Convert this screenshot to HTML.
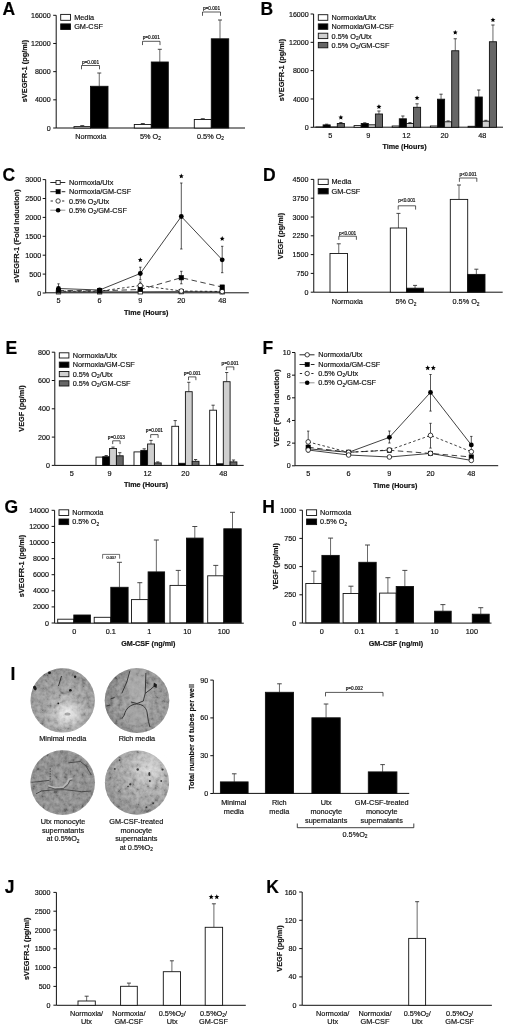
<!DOCTYPE html><html><head><meta charset="utf-8"><style>html,body{margin:0;padding:0;background:#fff;}svg{display:block;will-change:transform;} text{stroke:#111;stroke-width:0.18px;}</style></head><body>
<svg width="520" height="1029" viewBox="0 0 520 1029" font-family="Liberation Sans, sans-serif">
<rect width="520" height="1029" fill="#fff"/>
<text x="2.5" y="15.2" font-size="17.5" text-anchor="start" font-weight="bold" fill="#000">A</text>
<line x1="56.2" y1="15.3" x2="56.2" y2="128" stroke="#111" stroke-width="1.0"/>
<line x1="53.2" y1="128" x2="56.2" y2="128" stroke="#111" stroke-width="1.0"/>
<text x="50.7" y="130.56" font-size="7.1" text-anchor="end" fill="#111">0</text>
<line x1="53.2" y1="99.83" x2="56.2" y2="99.83" stroke="#111" stroke-width="1.0"/>
<text x="50.7" y="102.38" font-size="7.1" text-anchor="end" fill="#111">4000</text>
<line x1="53.2" y1="71.65" x2="56.2" y2="71.65" stroke="#111" stroke-width="1.0"/>
<text x="50.7" y="74.21" font-size="7.1" text-anchor="end" fill="#111">8000</text>
<line x1="53.2" y1="43.47" x2="56.2" y2="43.47" stroke="#111" stroke-width="1.0"/>
<text x="50.7" y="46.03" font-size="7.1" text-anchor="end" fill="#111">12000</text>
<line x1="53.2" y1="15.3" x2="56.2" y2="15.3" stroke="#111" stroke-width="1.0"/>
<text x="50.7" y="17.86" font-size="7.1" text-anchor="end" fill="#111">16000</text>
<line x1="56.2" y1="128" x2="245" y2="128" stroke="#111" stroke-width="1.0"/>
<text x="24" y="71" font-size="7.35" font-weight="bold" text-anchor="middle" fill="#111" transform="rotate(-90 24 71)" dy="2.65">sVEGFR-1 (pg/ml)</text>
<line x1="82.25" y1="125.6" x2="82.25" y2="126.6" stroke="#444" stroke-width="0.8"/>
<line x1="80.25" y1="125.6" x2="84.25" y2="125.6" stroke="#333" stroke-width="0.9"/>
<rect x="74" y="126.6" width="16.5" height="1.4" fill="#fff" stroke="#111" stroke-width="0.9"/>
<line x1="99.25" y1="73" x2="99.25" y2="86.3" stroke="#444" stroke-width="0.8"/>
<line x1="97.25" y1="73" x2="101.25" y2="73" stroke="#333" stroke-width="0.9"/>
<rect x="90.5" y="86.3" width="17.5" height="41.7" fill="#000" stroke="#111" stroke-width="0.9"/>
<line x1="142.8" y1="123.5" x2="142.8" y2="124.5" stroke="#444" stroke-width="0.8"/>
<line x1="140.8" y1="123.5" x2="144.8" y2="123.5" stroke="#333" stroke-width="0.9"/>
<rect x="134.3" y="124.5" width="17" height="3.5" fill="#fff" stroke="#111" stroke-width="0.9"/>
<line x1="159.8" y1="49.3" x2="159.8" y2="62" stroke="#444" stroke-width="0.8"/>
<line x1="157.8" y1="49.3" x2="161.8" y2="49.3" stroke="#333" stroke-width="0.9"/>
<rect x="151.3" y="62" width="17" height="66" fill="#000" stroke="#111" stroke-width="0.9"/>
<line x1="202.8" y1="118.7" x2="202.8" y2="119.5" stroke="#444" stroke-width="0.8"/>
<line x1="200.8" y1="118.7" x2="204.8" y2="118.7" stroke="#333" stroke-width="0.9"/>
<rect x="194.3" y="119.5" width="17" height="8.5" fill="#fff" stroke="#111" stroke-width="0.9"/>
<line x1="220" y1="20" x2="220" y2="38.8" stroke="#444" stroke-width="0.8"/>
<line x1="218" y1="20" x2="222" y2="20" stroke="#333" stroke-width="0.9"/>
<rect x="211.3" y="38.8" width="17.4" height="89.2" fill="#000" stroke="#111" stroke-width="0.9"/>
<path d="M81.5,69.3 V65.5 H99.5 V69.3" fill="none" stroke="#111" stroke-width="0.7"/>
<text x="90.5" y="63.5" font-size="4.7" text-anchor="middle" fill="#111">p=0.001</text>
<path d="M142.5,45.1 V41.3 H160 V45.1" fill="none" stroke="#111" stroke-width="0.7"/>
<text x="151.25" y="39.3" font-size="4.7" text-anchor="middle" fill="#111">p=0.001</text>
<path d="M202.5,15.8 V12 H220.5 V15.8" fill="none" stroke="#111" stroke-width="0.7"/>
<text x="211.5" y="10" font-size="4.7" text-anchor="middle" fill="#111">p=0.001</text>
<text x="90.8" y="139" font-size="7.3" text-anchor="middle" fill="#111">Normoxia</text>
<text x="150.5" y="139" font-size="7.3" text-anchor="middle" fill="#111">5% O<tspan font-size="4.82" dy="1.31">2</tspan><tspan dy="-1.31"></tspan></text>
<text x="210.5" y="139" font-size="7.3" text-anchor="middle" fill="#111">0.5% O<tspan font-size="4.82" dy="1.31">2</tspan><tspan dy="-1.31"></tspan></text>
<rect x="60.7" y="14.4" width="9.8" height="5.9" fill="#fff" stroke="#111" stroke-width="0.9"/>
<text x="74.2" y="19.98" font-size="7.3" text-anchor="start" fill="#111">Media</text>
<rect x="60.7" y="23.9" width="9.8" height="5.6" fill="#000" stroke="#111" stroke-width="0.9"/>
<text x="74.2" y="29.33" font-size="7.3" text-anchor="start" fill="#111">GM-CSF</text>
<text x="260.5" y="15.2" font-size="17.5" text-anchor="start" font-weight="bold" fill="#000">B</text>
<line x1="313.6" y1="14" x2="313.6" y2="127.3" stroke="#111" stroke-width="1.0"/>
<line x1="310.6" y1="127.3" x2="313.6" y2="127.3" stroke="#111" stroke-width="1.0"/>
<text x="308.7" y="129.86" font-size="7.1" text-anchor="end" fill="#111">0</text>
<line x1="310.6" y1="98.97" x2="313.6" y2="98.97" stroke="#111" stroke-width="1.0"/>
<text x="308.7" y="101.53" font-size="7.1" text-anchor="end" fill="#111">4000</text>
<line x1="310.6" y1="70.65" x2="313.6" y2="70.65" stroke="#111" stroke-width="1.0"/>
<text x="308.7" y="73.21" font-size="7.1" text-anchor="end" fill="#111">8000</text>
<line x1="310.6" y1="42.33" x2="313.6" y2="42.33" stroke="#111" stroke-width="1.0"/>
<text x="308.7" y="44.88" font-size="7.1" text-anchor="end" fill="#111">12000</text>
<line x1="310.6" y1="14" x2="313.6" y2="14" stroke="#111" stroke-width="1.0"/>
<text x="308.7" y="16.56" font-size="7.1" text-anchor="end" fill="#111">16000</text>
<line x1="313.6" y1="127.2" x2="503" y2="127.2" stroke="#111" stroke-width="1.0"/>
<text x="281.4" y="70" font-size="7.35" font-weight="bold" text-anchor="middle" fill="#111" transform="rotate(-90 281.4 70)" dy="2.65">sVEGFR-1 (pg/ml)</text>
<rect x="316" y="127" width="7.1" height="0.3" fill="#fff" stroke="#111" stroke-width="0.9"/>
<line x1="326.65" y1="124.2" x2="326.65" y2="124.9" stroke="#444" stroke-width="0.8"/>
<line x1="325.05" y1="124.2" x2="328.25" y2="124.2" stroke="#333" stroke-width="0.9"/>
<rect x="323.1" y="124.9" width="7.1" height="2.4" fill="#000" stroke="#111" stroke-width="0.9"/>
<rect x="330.2" y="127" width="7.1" height="0.3" fill="#cfcfcf" stroke="#111" stroke-width="0.9"/>
<line x1="340.85" y1="122.5" x2="340.85" y2="123.5" stroke="#444" stroke-width="0.8"/>
<line x1="339.25" y1="122.5" x2="342.45" y2="122.5" stroke="#333" stroke-width="0.9"/>
<rect x="337.3" y="123.5" width="7.1" height="3.8" fill="#666" stroke="#111" stroke-width="0.9"/>
<rect x="354.1" y="125.6" width="7.1" height="1.7" fill="#fff" stroke="#111" stroke-width="0.9"/>
<line x1="364.75" y1="122.8" x2="364.75" y2="123.5" stroke="#444" stroke-width="0.8"/>
<line x1="363.15" y1="122.8" x2="366.35" y2="122.8" stroke="#333" stroke-width="0.9"/>
<rect x="361.2" y="123.5" width="7.1" height="3.8" fill="#000" stroke="#111" stroke-width="0.9"/>
<rect x="368.3" y="124.8" width="7.1" height="2.5" fill="#cfcfcf" stroke="#111" stroke-width="0.9"/>
<line x1="378.95" y1="111" x2="378.95" y2="114" stroke="#444" stroke-width="0.8"/>
<line x1="377.35" y1="111" x2="380.55" y2="111" stroke="#333" stroke-width="0.9"/>
<rect x="375.4" y="114" width="7.1" height="13.3" fill="#666" stroke="#111" stroke-width="0.9"/>
<rect x="392.2" y="126" width="7.1" height="1.3" fill="#fff" stroke="#111" stroke-width="0.9"/>
<line x1="402.85" y1="116" x2="402.85" y2="118.8" stroke="#444" stroke-width="0.8"/>
<line x1="401.25" y1="116" x2="404.45" y2="116" stroke="#333" stroke-width="0.9"/>
<rect x="399.3" y="118.8" width="7.1" height="8.5" fill="#000" stroke="#111" stroke-width="0.9"/>
<line x1="409.95" y1="122.6" x2="409.95" y2="123.5" stroke="#444" stroke-width="0.8"/>
<line x1="408.35" y1="122.6" x2="411.55" y2="122.6" stroke="#333" stroke-width="0.9"/>
<rect x="406.4" y="123.5" width="7.1" height="3.8" fill="#cfcfcf" stroke="#111" stroke-width="0.9"/>
<line x1="417.05" y1="103.8" x2="417.05" y2="107.3" stroke="#444" stroke-width="0.8"/>
<line x1="415.45" y1="103.8" x2="418.65" y2="103.8" stroke="#333" stroke-width="0.9"/>
<rect x="413.5" y="107.3" width="7.1" height="20" fill="#666" stroke="#111" stroke-width="0.9"/>
<rect x="430.4" y="126" width="7.1" height="1.3" fill="#fff" stroke="#111" stroke-width="0.9"/>
<line x1="441.05" y1="94.2" x2="441.05" y2="99.2" stroke="#444" stroke-width="0.8"/>
<line x1="439.45" y1="94.2" x2="442.65" y2="94.2" stroke="#333" stroke-width="0.9"/>
<rect x="437.5" y="99.2" width="7.1" height="28.1" fill="#000" stroke="#111" stroke-width="0.9"/>
<line x1="448.15" y1="120.9" x2="448.15" y2="121.8" stroke="#444" stroke-width="0.8"/>
<line x1="446.55" y1="120.9" x2="449.75" y2="120.9" stroke="#333" stroke-width="0.9"/>
<rect x="444.6" y="121.8" width="7.1" height="5.5" fill="#cfcfcf" stroke="#111" stroke-width="0.9"/>
<line x1="455.25" y1="38.75" x2="455.25" y2="50.75" stroke="#444" stroke-width="0.8"/>
<line x1="453.65" y1="38.75" x2="456.85" y2="38.75" stroke="#333" stroke-width="0.9"/>
<rect x="451.7" y="50.75" width="7.1" height="76.55" fill="#666" stroke="#111" stroke-width="0.9"/>
<rect x="468.1" y="126.3" width="7.1" height="1" fill="#fff" stroke="#111" stroke-width="0.9"/>
<line x1="478.75" y1="90" x2="478.75" y2="97" stroke="#444" stroke-width="0.8"/>
<line x1="477.15" y1="90" x2="480.35" y2="90" stroke="#333" stroke-width="0.9"/>
<rect x="475.2" y="97" width="7.1" height="30.3" fill="#000" stroke="#111" stroke-width="0.9"/>
<line x1="485.85" y1="120.3" x2="485.85" y2="121.2" stroke="#444" stroke-width="0.8"/>
<line x1="484.25" y1="120.3" x2="487.45" y2="120.3" stroke="#333" stroke-width="0.9"/>
<rect x="482.3" y="121.2" width="7.1" height="6.1" fill="#cfcfcf" stroke="#111" stroke-width="0.9"/>
<line x1="492.95" y1="25" x2="492.95" y2="41.75" stroke="#444" stroke-width="0.8"/>
<line x1="491.35" y1="25" x2="494.55" y2="25" stroke="#333" stroke-width="0.9"/>
<rect x="489.4" y="41.75" width="7.1" height="85.55" fill="#666" stroke="#111" stroke-width="0.9"/>
<polygon points="340.85,114.9 341.56,116.53 343.32,116.7 341.99,117.87 342.38,119.6 340.85,118.7 339.32,119.6 339.71,117.87 338.38,116.7 340.14,116.53" fill="#000"/>
<polygon points="378.95,104.2 379.66,105.83 381.42,106 380.09,107.17 380.48,108.9 378.95,108 377.42,108.9 377.81,107.17 376.48,106 378.24,105.83" fill="#000"/>
<polygon points="417.05,95.4 417.76,97.03 419.52,97.2 418.19,98.37 418.58,100.1 417.05,99.2 415.52,100.1 415.91,98.37 414.58,97.2 416.34,97.03" fill="#000"/>
<polygon points="455.25,29.9 455.96,31.53 457.72,31.7 456.39,32.87 456.78,34.6 455.25,33.7 453.72,34.6 454.11,32.87 452.78,31.7 454.54,31.53" fill="#000"/>
<polygon points="492.95,17.4 493.66,19.03 495.42,19.2 494.09,20.37 494.48,22.1 492.95,21.2 491.42,22.1 491.81,20.37 490.48,19.2 492.24,19.03" fill="#000"/>
<text x="330.2" y="137.6" font-size="7.3" text-anchor="middle" fill="#111">5</text>
<text x="368.3" y="137.6" font-size="7.3" text-anchor="middle" fill="#111">9</text>
<text x="406.4" y="137.6" font-size="7.3" text-anchor="middle" fill="#111">12</text>
<text x="444.6" y="137.6" font-size="7.3" text-anchor="middle" fill="#111">20</text>
<text x="482.3" y="137.6" font-size="7.3" text-anchor="middle" fill="#111">48</text>
<text x="404.5" y="148.5" font-size="7.2" text-anchor="middle" font-weight="bold" fill="#111">Time (Hours)</text>
<rect x="318.3" y="14.7" width="9.5" height="5.6" fill="#fff" stroke="#111" stroke-width="0.9"/>
<text x="331.6" y="20.13" font-size="7.3" text-anchor="start" fill="#111">Normoxia/Utx</text>
<rect x="318.3" y="23.9" width="9.5" height="5.4" fill="#000" stroke="#111" stroke-width="0.9"/>
<text x="331.6" y="29.23" font-size="7.3" text-anchor="start" fill="#111">Normoxia/GM-CSF</text>
<rect x="318.3" y="33.2" width="9.5" height="5.4" fill="#cfcfcf" stroke="#111" stroke-width="0.9"/>
<text x="331.6" y="38.53" font-size="7.3" text-anchor="start" fill="#111">0.5% O<tspan font-size="4.82" dy="1.31">2</tspan><tspan dy="-1.31">/Utx</tspan></text>
<rect x="318.3" y="42.4" width="9.5" height="5.4" fill="#666" stroke="#111" stroke-width="0.9"/>
<text x="331.6" y="47.73" font-size="7.3" text-anchor="start" fill="#111">0.5% O<tspan font-size="4.82" dy="1.31">2</tspan><tspan dy="-1.31">/GM-CSF</tspan></text>
<text x="2.5" y="181" font-size="17.5" text-anchor="start" font-weight="bold" fill="#000">C</text>
<line x1="45.7" y1="179.6" x2="45.7" y2="293" stroke="#111" stroke-width="1.0"/>
<line x1="42.7" y1="293" x2="45.7" y2="293" stroke="#111" stroke-width="1.0"/>
<text x="41.1" y="295.56" font-size="7.1" text-anchor="end" fill="#111">0</text>
<line x1="42.7" y1="274.1" x2="45.7" y2="274.1" stroke="#111" stroke-width="1.0"/>
<text x="41.1" y="276.66" font-size="7.1" text-anchor="end" fill="#111">500</text>
<line x1="42.7" y1="255.2" x2="45.7" y2="255.2" stroke="#111" stroke-width="1.0"/>
<text x="41.1" y="257.76" font-size="7.1" text-anchor="end" fill="#111">1000</text>
<line x1="42.7" y1="236.3" x2="45.7" y2="236.3" stroke="#111" stroke-width="1.0"/>
<text x="41.1" y="238.86" font-size="7.1" text-anchor="end" fill="#111">1500</text>
<line x1="42.7" y1="217.4" x2="45.7" y2="217.4" stroke="#111" stroke-width="1.0"/>
<text x="41.1" y="219.96" font-size="7.1" text-anchor="end" fill="#111">2000</text>
<line x1="42.7" y1="198.5" x2="45.7" y2="198.5" stroke="#111" stroke-width="1.0"/>
<text x="41.1" y="201.06" font-size="7.1" text-anchor="end" fill="#111">2500</text>
<line x1="42.7" y1="179.6" x2="45.7" y2="179.6" stroke="#111" stroke-width="1.0"/>
<text x="41.1" y="182.16" font-size="7.1" text-anchor="end" fill="#111">3000</text>
<line x1="45.7" y1="292.8" x2="248.8" y2="292.8" stroke="#111" stroke-width="1.0"/>
<text x="16.3" y="236" font-size="7.35" font-weight="bold" text-anchor="middle" fill="#111" transform="rotate(-90 16.3 236)" dy="2.65">sVEGFR-1 (Fold Induction)</text>
<polyline points="58.5,291.8 99.6,291.8 140.3,291.8 181.3,291.6 222.2,291.8" fill="none" stroke="#111" stroke-width="0.8"/>
<polyline points="58.5,290.5 99.6,290.8 140.3,289.5 181.3,277.7 222.2,287.1" fill="none" stroke="#111" stroke-width="0.8" stroke-dasharray="5.5,3.5"/>
<line x1="181.3" y1="271.3" x2="181.3" y2="283.8" stroke="#111" stroke-width="0.7"/>
<line x1="180.1" y1="271.3" x2="182.5" y2="271.3" stroke="#111" stroke-width="0.7"/>
<line x1="180.1" y1="283.8" x2="182.5" y2="283.8" stroke="#111" stroke-width="0.7"/>
<polyline points="58.5,291.2 99.6,291.2 140.3,285.5 181.3,291 222.2,291.5" fill="none" stroke="#111" stroke-width="0.8" stroke-dasharray="2.6,2.3"/>
<line x1="140.3" y1="282" x2="140.3" y2="289" stroke="#111" stroke-width="0.7"/>
<line x1="139.1" y1="282" x2="141.5" y2="282" stroke="#111" stroke-width="0.7"/>
<line x1="139.1" y1="289" x2="141.5" y2="289" stroke="#111" stroke-width="0.7"/>
<polyline points="58.5,288.5 99.6,290 140.3,273.5 181.3,216.5 222.2,259.8" fill="none" stroke="#111" stroke-width="0.8"/>
<line x1="58.5" y1="283.8" x2="58.5" y2="292" stroke="#111" stroke-width="0.7"/>
<line x1="57.3" y1="283.8" x2="59.7" y2="283.8" stroke="#111" stroke-width="0.7"/>
<line x1="57.3" y1="292" x2="59.7" y2="292" stroke="#111" stroke-width="0.7"/>
<line x1="140.3" y1="267.2" x2="140.3" y2="279.8" stroke="#111" stroke-width="0.7"/>
<line x1="139.1" y1="267.2" x2="141.5" y2="267.2" stroke="#111" stroke-width="0.7"/>
<line x1="139.1" y1="279.8" x2="141.5" y2="279.8" stroke="#111" stroke-width="0.7"/>
<line x1="181.3" y1="183" x2="181.3" y2="249" stroke="#111" stroke-width="0.7"/>
<line x1="180.1" y1="183" x2="182.5" y2="183" stroke="#111" stroke-width="0.7"/>
<line x1="180.1" y1="249" x2="182.5" y2="249" stroke="#111" stroke-width="0.7"/>
<line x1="222.2" y1="246.3" x2="222.2" y2="272.7" stroke="#111" stroke-width="0.7"/>
<line x1="221" y1="246.3" x2="223.4" y2="246.3" stroke="#111" stroke-width="0.7"/>
<line x1="221" y1="272.7" x2="223.4" y2="272.7" stroke="#111" stroke-width="0.7"/>
<rect x="56.3" y="289.6" width="4.4" height="4.4" fill="#fff" stroke="#111" stroke-width="0.8"/>
<rect x="97.4" y="289.6" width="4.4" height="4.4" fill="#fff" stroke="#111" stroke-width="0.8"/>
<rect x="138.1" y="289.6" width="4.4" height="4.4" fill="#fff" stroke="#111" stroke-width="0.8"/>
<rect x="179.1" y="289.4" width="4.4" height="4.4" fill="#fff" stroke="#111" stroke-width="0.8"/>
<rect x="220" y="289.6" width="4.4" height="4.4" fill="#fff" stroke="#111" stroke-width="0.8"/>
<circle cx="58.5" cy="291.2" r="2.31" fill="#fff" stroke="#111" stroke-width="0.8"/>
<circle cx="99.6" cy="291.2" r="2.31" fill="#fff" stroke="#111" stroke-width="0.8"/>
<circle cx="140.3" cy="285.5" r="2.31" fill="#fff" stroke="#111" stroke-width="0.8"/>
<circle cx="181.3" cy="291" r="2.31" fill="#fff" stroke="#111" stroke-width="0.8"/>
<circle cx="222.2" cy="291.5" r="2.31" fill="#fff" stroke="#111" stroke-width="0.8"/>
<rect x="56.3" y="288.3" width="4.4" height="4.4" fill="#000" stroke="#000" stroke-width="0.6"/>
<rect x="97.4" y="288.6" width="4.4" height="4.4" fill="#000" stroke="#000" stroke-width="0.6"/>
<rect x="138.1" y="287.3" width="4.4" height="4.4" fill="#000" stroke="#000" stroke-width="0.6"/>
<rect x="179.1" y="275.5" width="4.4" height="4.4" fill="#000" stroke="#000" stroke-width="0.6"/>
<rect x="220" y="284.9" width="4.4" height="4.4" fill="#000" stroke="#000" stroke-width="0.6"/>
<circle cx="58.5" cy="288.5" r="2.42" fill="#000"/>
<circle cx="99.6" cy="290" r="2.42" fill="#000"/>
<circle cx="140.3" cy="273.5" r="2.42" fill="#000"/>
<circle cx="181.3" cy="216.5" r="2.42" fill="#000"/>
<circle cx="222.2" cy="259.8" r="2.42" fill="#000"/>
<polygon points="140.3,257.4 141.01,259.03 142.77,259.2 141.44,260.37 141.83,262.1 140.3,261.2 138.77,262.1 139.16,260.37 137.83,259.2 139.59,259.03" fill="#000"/>
<polygon points="181.3,173.6 182.01,175.23 183.77,175.4 182.44,176.57 182.83,178.3 181.3,177.4 179.77,178.3 180.16,176.57 178.83,175.4 180.59,175.23" fill="#000"/>
<polygon points="222.2,236.1 222.91,237.73 224.67,237.9 223.34,239.07 223.73,240.8 222.2,239.9 220.67,240.8 221.06,239.07 219.73,237.9 221.49,237.73" fill="#000"/>
<text x="58.5" y="303" font-size="7.3" text-anchor="middle" fill="#111">5</text>
<text x="99.6" y="303" font-size="7.3" text-anchor="middle" fill="#111">6</text>
<text x="140.3" y="303" font-size="7.3" text-anchor="middle" fill="#111">9</text>
<text x="181.3" y="303" font-size="7.3" text-anchor="middle" fill="#111">20</text>
<text x="222.2" y="303" font-size="7.3" text-anchor="middle" fill="#111">48</text>
<text x="146.2" y="314.9" font-size="7.2" text-anchor="middle" font-weight="bold" fill="#111">Time (Hours)</text>
<line x1="50.3" y1="182.5" x2="65.3" y2="182.5" stroke="#111" stroke-width="0.9"/>
<rect x="56" y="180.4" width="4.2" height="4.2" fill="#fff" stroke="#111" stroke-width="0.8"/>
<text x="69.1" y="185.13" font-size="7.3" text-anchor="start" fill="#111">Normoxia/Utx</text>
<line x1="50.3" y1="191.7" x2="58.1" y2="191.7" stroke="#111" stroke-width="0.9"/>
<line x1="61.7" y1="191.7" x2="65.3" y2="191.7" stroke="#111" stroke-width="0.9"/>
<rect x="56" y="189.6" width="4.2" height="4.2" fill="#000" stroke="#000" stroke-width="0.6"/>
<text x="69.1" y="194.33" font-size="7.3" text-anchor="start" fill="#111">Normoxia/GM-CSF</text>
<line x1="50.6" y1="201" x2="52.9" y2="201" stroke="#111" stroke-width="0.9"/>
<line x1="62.1" y1="201" x2="64.3" y2="201" stroke="#111" stroke-width="0.9"/>
<circle cx="58.1" cy="201" r="2.21" fill="#fff" stroke="#111" stroke-width="0.8"/>
<text x="69.1" y="203.63" font-size="7.3" text-anchor="start" fill="#111">0.5% O<tspan font-size="4.82" dy="1.31">2</tspan><tspan dy="-1.31">/Utx</tspan></text>
<line x1="50.3" y1="210.2" x2="65.3" y2="210.2" stroke="#888" stroke-width="0.9"/>
<circle cx="58.1" cy="210.2" r="2.31" fill="#000"/>
<text x="69.1" y="212.83" font-size="7.3" text-anchor="start" fill="#111">0.5% O<tspan font-size="4.82" dy="1.31">2</tspan><tspan dy="-1.31">/GM-CSF</tspan></text>
<text x="263" y="181.1" font-size="17.5" text-anchor="start" font-weight="bold" fill="#000">D</text>
<line x1="313.75" y1="179.4" x2="313.75" y2="292.2" stroke="#111" stroke-width="1.0"/>
<line x1="310.75" y1="292.2" x2="313.75" y2="292.2" stroke="#111" stroke-width="1.0"/>
<text x="308.4" y="294.76" font-size="7.1" text-anchor="end" fill="#111">0</text>
<line x1="310.75" y1="273.4" x2="313.75" y2="273.4" stroke="#111" stroke-width="1.0"/>
<text x="308.4" y="275.96" font-size="7.1" text-anchor="end" fill="#111">750</text>
<line x1="310.75" y1="254.6" x2="313.75" y2="254.6" stroke="#111" stroke-width="1.0"/>
<text x="308.4" y="257.16" font-size="7.1" text-anchor="end" fill="#111">1500</text>
<line x1="310.75" y1="235.8" x2="313.75" y2="235.8" stroke="#111" stroke-width="1.0"/>
<text x="308.4" y="238.36" font-size="7.1" text-anchor="end" fill="#111">2250</text>
<line x1="310.75" y1="217" x2="313.75" y2="217" stroke="#111" stroke-width="1.0"/>
<text x="308.4" y="219.56" font-size="7.1" text-anchor="end" fill="#111">3000</text>
<line x1="310.75" y1="198.2" x2="313.75" y2="198.2" stroke="#111" stroke-width="1.0"/>
<text x="308.4" y="200.76" font-size="7.1" text-anchor="end" fill="#111">3750</text>
<line x1="310.75" y1="179.4" x2="313.75" y2="179.4" stroke="#111" stroke-width="1.0"/>
<text x="308.4" y="181.96" font-size="7.1" text-anchor="end" fill="#111">4500</text>
<line x1="313.75" y1="292.2" x2="502.7" y2="292.2" stroke="#111" stroke-width="1.0"/>
<text x="280.7" y="236" font-size="7.35" font-weight="bold" text-anchor="middle" fill="#111" transform="rotate(-90 280.7 236)" dy="2.65">VEGF (pg/ml)</text>
<line x1="338.75" y1="243.8" x2="338.75" y2="253.5" stroke="#444" stroke-width="0.8"/>
<line x1="336.75" y1="243.8" x2="340.75" y2="243.8" stroke="#333" stroke-width="0.9"/>
<rect x="330" y="253.5" width="17.5" height="38.7" fill="#fff" stroke="#111" stroke-width="0.9"/>
<line x1="398.45" y1="213.4" x2="398.45" y2="228" stroke="#444" stroke-width="0.8"/>
<line x1="396.45" y1="213.4" x2="400.45" y2="213.4" stroke="#333" stroke-width="0.9"/>
<rect x="390.3" y="228" width="16.3" height="64.2" fill="#fff" stroke="#111" stroke-width="0.9"/>
<line x1="415.05" y1="285.4" x2="415.05" y2="288.2" stroke="#444" stroke-width="0.8"/>
<line x1="413.05" y1="285.4" x2="417.05" y2="285.4" stroke="#333" stroke-width="0.9"/>
<rect x="406.6" y="288.2" width="16.9" height="4" fill="#000" stroke="#111" stroke-width="0.9"/>
<line x1="459" y1="185" x2="459" y2="199.4" stroke="#444" stroke-width="0.8"/>
<line x1="457" y1="185" x2="461" y2="185" stroke="#333" stroke-width="0.9"/>
<rect x="450.3" y="199.4" width="17.4" height="92.8" fill="#fff" stroke="#111" stroke-width="0.9"/>
<line x1="476.35" y1="269.2" x2="476.35" y2="274.4" stroke="#444" stroke-width="0.8"/>
<line x1="474.35" y1="269.2" x2="478.35" y2="269.2" stroke="#333" stroke-width="0.9"/>
<rect x="467.7" y="274.4" width="17.3" height="17.8" fill="#000" stroke="#111" stroke-width="0.9"/>
<path d="M338.8,239.8 V236.2 H356.4 V239.8" fill="none" stroke="#111" stroke-width="0.7"/>
<text x="347.6" y="234.5" font-size="4.7" text-anchor="middle" fill="#111">p&lt;0.001</text>
<path d="M398.2,209.6 V205.8 H415.6 V209.6" fill="none" stroke="#111" stroke-width="0.7"/>
<text x="406.9" y="202.4" font-size="4.7" text-anchor="middle" fill="#111">p&lt;0.001</text>
<path d="M459.4,181.8 V178 H476.8 V181.8" fill="none" stroke="#111" stroke-width="0.7"/>
<text x="468.1" y="175.5" font-size="4.7" text-anchor="middle" fill="#111">p&lt;0.001</text>
<text x="347.3" y="304.2" font-size="7.3" text-anchor="middle" fill="#111">Normoxia</text>
<text x="406" y="304.2" font-size="7.3" text-anchor="middle" fill="#111">5% O<tspan font-size="4.82" dy="1.31">2</tspan><tspan dy="-1.31"></tspan></text>
<text x="466" y="304.2" font-size="7.3" text-anchor="middle" fill="#111">0.5% O<tspan font-size="4.82" dy="1.31">2</tspan><tspan dy="-1.31"></tspan></text>
<rect x="318.2" y="179.2" width="10" height="5.3" fill="#fff" stroke="#111" stroke-width="0.9"/>
<text x="331.5" y="184.48" font-size="7.3" text-anchor="start" fill="#111">Media</text>
<rect x="318.2" y="188.5" width="10" height="5.4" fill="#000" stroke="#111" stroke-width="0.9"/>
<text x="331.5" y="193.83" font-size="7.3" text-anchor="start" fill="#111">GM-CSF</text>
<text x="5.5" y="353.5" font-size="17.5" text-anchor="start" font-weight="bold" fill="#000">E</text>
<line x1="54.8" y1="352.2" x2="54.8" y2="465.4" stroke="#111" stroke-width="1.0"/>
<line x1="51.8" y1="465.4" x2="54.8" y2="465.4" stroke="#111" stroke-width="1.0"/>
<text x="49.9" y="467.96" font-size="7.1" text-anchor="end" fill="#111">0</text>
<line x1="51.8" y1="437.1" x2="54.8" y2="437.1" stroke="#111" stroke-width="1.0"/>
<text x="49.9" y="439.66" font-size="7.1" text-anchor="end" fill="#111">200</text>
<line x1="51.8" y1="408.8" x2="54.8" y2="408.8" stroke="#111" stroke-width="1.0"/>
<text x="49.9" y="411.36" font-size="7.1" text-anchor="end" fill="#111">400</text>
<line x1="51.8" y1="380.5" x2="54.8" y2="380.5" stroke="#111" stroke-width="1.0"/>
<text x="49.9" y="383.06" font-size="7.1" text-anchor="end" fill="#111">600</text>
<line x1="51.8" y1="352.2" x2="54.8" y2="352.2" stroke="#111" stroke-width="1.0"/>
<text x="49.9" y="354.76" font-size="7.1" text-anchor="end" fill="#111">800</text>
<line x1="54.8" y1="465.4" x2="243.7" y2="465.4" stroke="#111" stroke-width="1.0"/>
<text x="21.8" y="408.5" font-size="7.35" font-weight="bold" text-anchor="middle" fill="#111" transform="rotate(-90 21.8 408.5)" dy="2.65">VEGF (pg/ml)</text>
<rect x="96" y="457.1" width="6.8" height="8.3" fill="#fff" stroke="#111" stroke-width="0.9"/>
<line x1="106.2" y1="455.5" x2="106.2" y2="456.7" stroke="#444" stroke-width="0.8"/>
<line x1="104.6" y1="455.5" x2="107.8" y2="455.5" stroke="#333" stroke-width="0.9"/>
<rect x="102.8" y="456.7" width="6.8" height="8.7" fill="#000" stroke="#111" stroke-width="0.9"/>
<line x1="113" y1="447.1" x2="113" y2="448.5" stroke="#444" stroke-width="0.8"/>
<line x1="111.4" y1="447.1" x2="114.6" y2="447.1" stroke="#333" stroke-width="0.9"/>
<rect x="109.6" y="448.5" width="6.8" height="16.9" fill="#cfcfcf" stroke="#111" stroke-width="0.9"/>
<line x1="119.8" y1="452.7" x2="119.8" y2="455.8" stroke="#444" stroke-width="0.8"/>
<line x1="118.2" y1="452.7" x2="121.4" y2="452.7" stroke="#333" stroke-width="0.9"/>
<rect x="116.4" y="455.8" width="6.8" height="9.6" fill="#666" stroke="#111" stroke-width="0.9"/>
<rect x="134" y="451.9" width="6.8" height="13.5" fill="#fff" stroke="#111" stroke-width="0.9"/>
<line x1="144.2" y1="448.8" x2="144.2" y2="450.4" stroke="#444" stroke-width="0.8"/>
<line x1="142.6" y1="448.8" x2="145.8" y2="448.8" stroke="#333" stroke-width="0.9"/>
<rect x="140.8" y="450.4" width="6.8" height="15" fill="#000" stroke="#111" stroke-width="0.9"/>
<line x1="151" y1="440.4" x2="151" y2="444" stroke="#444" stroke-width="0.8"/>
<line x1="149.4" y1="440.4" x2="152.6" y2="440.4" stroke="#333" stroke-width="0.9"/>
<rect x="147.6" y="444" width="6.8" height="21.4" fill="#cfcfcf" stroke="#111" stroke-width="0.9"/>
<line x1="157.8" y1="461.9" x2="157.8" y2="462.9" stroke="#444" stroke-width="0.8"/>
<line x1="156.2" y1="461.9" x2="159.4" y2="461.9" stroke="#333" stroke-width="0.9"/>
<rect x="154.4" y="462.9" width="6.8" height="2.5" fill="#666" stroke="#111" stroke-width="0.9"/>
<line x1="175.2" y1="420.6" x2="175.2" y2="426.3" stroke="#444" stroke-width="0.8"/>
<line x1="173.6" y1="420.6" x2="176.8" y2="420.6" stroke="#333" stroke-width="0.9"/>
<rect x="171.8" y="426.3" width="6.8" height="39.1" fill="#fff" stroke="#111" stroke-width="0.9"/>
<rect x="178.6" y="463.3" width="6.8" height="2.1" fill="#000" stroke="#111" stroke-width="0.9"/>
<line x1="188.8" y1="382.3" x2="188.8" y2="391.7" stroke="#444" stroke-width="0.8"/>
<line x1="187.2" y1="382.3" x2="190.4" y2="382.3" stroke="#333" stroke-width="0.9"/>
<rect x="185.4" y="391.7" width="6.8" height="73.7" fill="#cfcfcf" stroke="#111" stroke-width="0.9"/>
<line x1="195.6" y1="459.5" x2="195.6" y2="461.3" stroke="#444" stroke-width="0.8"/>
<line x1="194" y1="459.5" x2="197.2" y2="459.5" stroke="#333" stroke-width="0.9"/>
<rect x="192.2" y="461.3" width="6.8" height="4.1" fill="#666" stroke="#111" stroke-width="0.9"/>
<line x1="213.1" y1="405.2" x2="213.1" y2="410.2" stroke="#444" stroke-width="0.8"/>
<line x1="211.5" y1="405.2" x2="214.7" y2="405.2" stroke="#333" stroke-width="0.9"/>
<rect x="209.7" y="410.2" width="6.8" height="55.2" fill="#fff" stroke="#111" stroke-width="0.9"/>
<rect x="216.5" y="463.8" width="6.8" height="1.6" fill="#000" stroke="#111" stroke-width="0.9"/>
<line x1="226.7" y1="372.5" x2="226.7" y2="381.7" stroke="#444" stroke-width="0.8"/>
<line x1="225.1" y1="372.5" x2="228.3" y2="372.5" stroke="#333" stroke-width="0.9"/>
<rect x="223.3" y="381.7" width="6.8" height="83.7" fill="#cfcfcf" stroke="#111" stroke-width="0.9"/>
<line x1="233.5" y1="460" x2="233.5" y2="461.9" stroke="#444" stroke-width="0.8"/>
<line x1="231.9" y1="460" x2="235.1" y2="460" stroke="#333" stroke-width="0.9"/>
<rect x="230.1" y="461.9" width="6.8" height="3.5" fill="#666" stroke="#111" stroke-width="0.9"/>
<path d="M112.7,444.1 V440.8 H120.1 V444.1" fill="none" stroke="#111" stroke-width="0.7"/>
<text x="116.4" y="438.6" font-size="4.7" text-anchor="middle" fill="#111">p=0.013</text>
<path d="M150.7,437.9 V434.6 H158.1 V437.9" fill="none" stroke="#111" stroke-width="0.7"/>
<text x="154.4" y="432.4" font-size="4.7" text-anchor="middle" fill="#111">p=0.001</text>
<path d="M188.5,380.2 V376.9 H195.9 V380.2" fill="none" stroke="#111" stroke-width="0.7"/>
<text x="192.2" y="374.7" font-size="4.7" text-anchor="middle" fill="#111">p=0.001</text>
<path d="M226.4,370.2 V366.9 H233.8 V370.2" fill="none" stroke="#111" stroke-width="0.7"/>
<text x="230.1" y="364.7" font-size="4.7" text-anchor="middle" fill="#111">p=0.001</text>
<text x="71.9" y="476.3" font-size="7.3" text-anchor="middle" fill="#111">5</text>
<text x="109.6" y="476.3" font-size="7.3" text-anchor="middle" fill="#111">9</text>
<text x="147.6" y="476.3" font-size="7.3" text-anchor="middle" fill="#111">12</text>
<text x="185.4" y="476.3" font-size="7.3" text-anchor="middle" fill="#111">20</text>
<text x="223.3" y="476.3" font-size="7.3" text-anchor="middle" fill="#111">48</text>
<text x="146" y="486.9" font-size="7.2" text-anchor="middle" font-weight="bold" fill="#111">Time (Hours)</text>
<rect x="59.3" y="352.8" width="9.6" height="5.2" fill="#fff" stroke="#111" stroke-width="0.9"/>
<text x="72.7" y="358.03" font-size="7.3" text-anchor="start" fill="#111">Normoxia/Utx</text>
<rect x="59.3" y="362.1" width="9.6" height="5.2" fill="#000" stroke="#111" stroke-width="0.9"/>
<text x="72.7" y="367.33" font-size="7.3" text-anchor="start" fill="#111">Normoxia/GM-CSF</text>
<rect x="59.3" y="371.5" width="9.6" height="5.2" fill="#cfcfcf" stroke="#111" stroke-width="0.9"/>
<text x="72.7" y="376.73" font-size="7.3" text-anchor="start" fill="#111">0.5% O<tspan font-size="4.82" dy="1.31">2</tspan><tspan dy="-1.31">/Utx</tspan></text>
<rect x="59.3" y="380.8" width="9.6" height="5.2" fill="#666" stroke="#111" stroke-width="0.9"/>
<text x="72.7" y="386.03" font-size="7.3" text-anchor="start" fill="#111">0.5% O<tspan font-size="4.82" dy="1.31">2</tspan><tspan dy="-1.31">/GM-CSF</tspan></text>
<text x="262.5" y="353.8" font-size="17.5" text-anchor="start" font-weight="bold" fill="#000">F</text>
<line x1="295" y1="352.5" x2="295" y2="465.6" stroke="#111" stroke-width="1.0"/>
<line x1="292" y1="465.8" x2="295" y2="465.8" stroke="#111" stroke-width="1.0"/>
<text x="290.7" y="468.36" font-size="7.1" text-anchor="end" fill="#111">0</text>
<line x1="292" y1="443.14" x2="295" y2="443.14" stroke="#111" stroke-width="1.0"/>
<text x="290.7" y="445.7" font-size="7.1" text-anchor="end" fill="#111">2</text>
<line x1="292" y1="420.48" x2="295" y2="420.48" stroke="#111" stroke-width="1.0"/>
<text x="290.7" y="423.04" font-size="7.1" text-anchor="end" fill="#111">4</text>
<line x1="292" y1="397.82" x2="295" y2="397.82" stroke="#111" stroke-width="1.0"/>
<text x="290.7" y="400.38" font-size="7.1" text-anchor="end" fill="#111">6</text>
<line x1="292" y1="375.16" x2="295" y2="375.16" stroke="#111" stroke-width="1.0"/>
<text x="290.7" y="377.72" font-size="7.1" text-anchor="end" fill="#111">8</text>
<line x1="292" y1="352.5" x2="295" y2="352.5" stroke="#111" stroke-width="1.0"/>
<text x="290.7" y="355.06" font-size="7.1" text-anchor="end" fill="#111">10</text>
<line x1="295" y1="465.7" x2="498.2" y2="465.7" stroke="#111" stroke-width="1.0"/>
<text x="276" y="408" font-size="7.35" font-weight="bold" text-anchor="middle" fill="#111" transform="rotate(-90 276 408)" dy="2.65">VEGF (Fold Induction)</text>
<polyline points="308.2,450 348.6,455 389.4,457 430.5,453.4 471.3,460.4" fill="none" stroke="#111" stroke-width="0.8"/>
<polyline points="308.2,447.2 348.6,452.3 389.4,450.3 430.5,453.4 471.3,457" fill="none" stroke="#111" stroke-width="0.8" stroke-dasharray="5.5,3.5"/>
<polyline points="308.2,441.9 348.6,452.3 389.4,450 430.5,435.4 471.3,451.7" fill="none" stroke="#111" stroke-width="0.8" stroke-dasharray="2.6,2.3"/>
<line x1="308.2" y1="431.1" x2="308.2" y2="452" stroke="#111" stroke-width="0.7"/>
<line x1="307" y1="431.1" x2="309.4" y2="431.1" stroke="#111" stroke-width="0.7"/>
<line x1="307" y1="452" x2="309.4" y2="452" stroke="#111" stroke-width="0.7"/>
<line x1="430.5" y1="423.3" x2="430.5" y2="448.1" stroke="#111" stroke-width="0.7"/>
<line x1="429.3" y1="423.3" x2="431.7" y2="423.3" stroke="#111" stroke-width="0.7"/>
<line x1="429.3" y1="448.1" x2="431.7" y2="448.1" stroke="#111" stroke-width="0.7"/>
<polyline points="308.2,448.8 348.6,452.3 389.4,437.3 430.5,392.4 471.3,444.9" fill="none" stroke="#111" stroke-width="0.8"/>
<line x1="389.4" y1="431" x2="389.4" y2="443" stroke="#111" stroke-width="0.7"/>
<line x1="388.2" y1="431" x2="390.6" y2="431" stroke="#111" stroke-width="0.7"/>
<line x1="388.2" y1="443" x2="390.6" y2="443" stroke="#111" stroke-width="0.7"/>
<line x1="430.5" y1="374.5" x2="430.5" y2="411.1" stroke="#111" stroke-width="0.7"/>
<line x1="429.3" y1="374.5" x2="431.7" y2="374.5" stroke="#111" stroke-width="0.7"/>
<line x1="429.3" y1="411.1" x2="431.7" y2="411.1" stroke="#111" stroke-width="0.7"/>
<line x1="471.3" y1="436.4" x2="471.3" y2="452" stroke="#111" stroke-width="0.7"/>
<line x1="470.1" y1="436.4" x2="472.5" y2="436.4" stroke="#111" stroke-width="0.7"/>
<line x1="470.1" y1="452" x2="472.5" y2="452" stroke="#111" stroke-width="0.7"/>
<rect x="306" y="445" width="4.4" height="4.4" fill="#000" stroke="#000" stroke-width="0.6"/>
<rect x="346.4" y="450.1" width="4.4" height="4.4" fill="#000" stroke="#000" stroke-width="0.6"/>
<rect x="387.2" y="448.1" width="4.4" height="4.4" fill="#000" stroke="#000" stroke-width="0.6"/>
<rect x="428.3" y="451.2" width="4.4" height="4.4" fill="#000" stroke="#000" stroke-width="0.6"/>
<rect x="469.1" y="454.8" width="4.4" height="4.4" fill="#000" stroke="#000" stroke-width="0.6"/>
<circle cx="308.2" cy="448.8" r="2.42" fill="#000"/>
<circle cx="348.6" cy="452.3" r="2.42" fill="#000"/>
<circle cx="389.4" cy="437.3" r="2.42" fill="#000"/>
<circle cx="430.5" cy="392.4" r="2.42" fill="#000"/>
<circle cx="471.3" cy="444.9" r="2.42" fill="#000"/>
<circle cx="308.2" cy="441.9" r="2.31" fill="#fff" stroke="#111" stroke-width="0.8"/>
<circle cx="348.6" cy="452.3" r="2.31" fill="#fff" stroke="#111" stroke-width="0.8"/>
<circle cx="389.4" cy="450" r="2.31" fill="#fff" stroke="#111" stroke-width="0.8"/>
<circle cx="430.5" cy="435.4" r="2.31" fill="#fff" stroke="#111" stroke-width="0.8"/>
<circle cx="471.3" cy="451.7" r="2.31" fill="#fff" stroke="#111" stroke-width="0.8"/>
<circle cx="308.2" cy="450" r="2.31" fill="#fff" stroke="#111" stroke-width="0.8"/>
<circle cx="348.6" cy="455" r="2.31" fill="#fff" stroke="#111" stroke-width="0.8"/>
<circle cx="389.4" cy="457" r="2.31" fill="#fff" stroke="#111" stroke-width="0.8"/>
<circle cx="430.5" cy="453.4" r="2.31" fill="#fff" stroke="#111" stroke-width="0.8"/>
<circle cx="471.3" cy="460.4" r="2.31" fill="#fff" stroke="#111" stroke-width="0.8"/>
<polygon points="427.7,365.3 428.41,367.03 430.27,367.17 428.84,368.37 429.29,370.18 427.7,369.2 426.11,370.18 426.56,368.37 425.13,367.17 426.99,367.03" fill="#000"/>
<polygon points="433.3,365.3 434.01,367.03 435.87,367.17 434.44,368.37 434.89,370.18 433.3,369.2 431.71,370.18 432.16,368.37 430.73,367.17 432.59,367.03" fill="#000"/>
<text x="308.2" y="475.5" font-size="7.3" text-anchor="middle" fill="#111">5</text>
<text x="348.6" y="475.5" font-size="7.3" text-anchor="middle" fill="#111">6</text>
<text x="389.4" y="475.5" font-size="7.3" text-anchor="middle" fill="#111">9</text>
<text x="430.5" y="475.5" font-size="7.3" text-anchor="middle" fill="#111">20</text>
<text x="471.3" y="475.5" font-size="7.3" text-anchor="middle" fill="#111">48</text>
<text x="395.2" y="487.7" font-size="7.2" text-anchor="middle" font-weight="bold" fill="#111">Time (Hours)</text>
<line x1="299.5" y1="354.8" x2="314.5" y2="354.8" stroke="#111" stroke-width="0.9"/>
<circle cx="307.2" cy="354.8" r="2.21" fill="#fff" stroke="#111" stroke-width="0.8"/>
<text x="318.2" y="357.43" font-size="7.3" text-anchor="start" fill="#111">Normoxia/Utx</text>
<line x1="299.5" y1="364.5" x2="307.2" y2="364.5" stroke="#111" stroke-width="0.9"/>
<line x1="310.8" y1="364.5" x2="314.5" y2="364.5" stroke="#111" stroke-width="0.9"/>
<rect x="305.1" y="362.4" width="4.2" height="4.2" fill="#000" stroke="#000" stroke-width="0.6"/>
<text x="318.2" y="367.13" font-size="7.3" text-anchor="start" fill="#111">Normoxia/GM-CSF</text>
<line x1="299.8" y1="373.5" x2="302.1" y2="373.5" stroke="#111" stroke-width="0.9"/>
<line x1="311.3" y1="373.5" x2="313.5" y2="373.5" stroke="#111" stroke-width="0.9"/>
<circle cx="307.2" cy="373.5" r="2.21" fill="#fff" stroke="#111" stroke-width="0.8"/>
<text x="318.2" y="376.13" font-size="7.3" text-anchor="start" fill="#111">0.5% O<tspan font-size="4.82" dy="1.31">2</tspan><tspan dy="-1.31">/Utx</tspan></text>
<line x1="299.5" y1="382.8" x2="314.5" y2="382.8" stroke="#888" stroke-width="0.9"/>
<circle cx="307.2" cy="382.8" r="2.31" fill="#000"/>
<text x="318.2" y="385.43" font-size="7.3" text-anchor="start" fill="#111">0.5% O<tspan font-size="4.82" dy="1.31">2</tspan><tspan dy="-1.31">/GM-CSF</tspan></text>
<text x="4.5" y="512.6" font-size="17.5" text-anchor="start" font-weight="bold" fill="#000">G</text>
<line x1="54.6" y1="510.3" x2="54.6" y2="623.2" stroke="#111" stroke-width="1.0"/>
<line x1="51.6" y1="623" x2="54.6" y2="623" stroke="#111" stroke-width="1.0"/>
<text x="48.9" y="625.56" font-size="7.1" text-anchor="end" fill="#111">0</text>
<line x1="51.6" y1="606.9" x2="54.6" y2="606.9" stroke="#111" stroke-width="1.0"/>
<text x="48.9" y="609.46" font-size="7.1" text-anchor="end" fill="#111">2000</text>
<line x1="51.6" y1="590.8" x2="54.6" y2="590.8" stroke="#111" stroke-width="1.0"/>
<text x="48.9" y="593.36" font-size="7.1" text-anchor="end" fill="#111">4000</text>
<line x1="51.6" y1="574.7" x2="54.6" y2="574.7" stroke="#111" stroke-width="1.0"/>
<text x="48.9" y="577.26" font-size="7.1" text-anchor="end" fill="#111">6000</text>
<line x1="51.6" y1="558.6" x2="54.6" y2="558.6" stroke="#111" stroke-width="1.0"/>
<text x="48.9" y="561.16" font-size="7.1" text-anchor="end" fill="#111">8000</text>
<line x1="51.6" y1="542.5" x2="54.6" y2="542.5" stroke="#111" stroke-width="1.0"/>
<text x="48.9" y="545.06" font-size="7.1" text-anchor="end" fill="#111">10000</text>
<line x1="51.6" y1="526.4" x2="54.6" y2="526.4" stroke="#111" stroke-width="1.0"/>
<text x="48.9" y="528.96" font-size="7.1" text-anchor="end" fill="#111">12000</text>
<line x1="51.6" y1="510.3" x2="54.6" y2="510.3" stroke="#111" stroke-width="1.0"/>
<text x="48.9" y="512.86" font-size="7.1" text-anchor="end" fill="#111">14000</text>
<line x1="54.6" y1="623.2" x2="243.8" y2="623.2" stroke="#111" stroke-width="1.0"/>
<text x="21.8" y="566" font-size="7.35" font-weight="bold" text-anchor="middle" fill="#111" transform="rotate(-90 21.8 566)" dy="2.65">sVEGFR-1 (pg/ml)</text>
<rect x="57.7" y="619.2" width="16.1" height="3.6" fill="#fff" stroke="#111" stroke-width="0.9"/>
<rect x="73.8" y="615" width="16.6" height="7.8" fill="#000" stroke="#111" stroke-width="0.9"/>
<rect x="94.2" y="617.3" width="16.6" height="5.5" fill="#fff" stroke="#111" stroke-width="0.9"/>
<line x1="119.45" y1="562.3" x2="119.45" y2="587.3" stroke="#444" stroke-width="0.8"/>
<line x1="116.95" y1="562.3" x2="121.95" y2="562.3" stroke="#333" stroke-width="0.9"/>
<rect x="110.8" y="587.3" width="17.3" height="35.5" fill="#000" stroke="#111" stroke-width="0.9"/>
<line x1="139.8" y1="582.7" x2="139.8" y2="599.6" stroke="#444" stroke-width="0.8"/>
<line x1="137.3" y1="582.7" x2="142.3" y2="582.7" stroke="#333" stroke-width="0.9"/>
<rect x="131.5" y="599.6" width="16.6" height="23.2" fill="#fff" stroke="#111" stroke-width="0.9"/>
<line x1="156.35" y1="540" x2="156.35" y2="571.9" stroke="#444" stroke-width="0.8"/>
<line x1="153.85" y1="540" x2="158.85" y2="540" stroke="#333" stroke-width="0.9"/>
<rect x="148.1" y="571.9" width="16.5" height="50.9" fill="#000" stroke="#111" stroke-width="0.9"/>
<line x1="178.25" y1="570.4" x2="178.25" y2="585.4" stroke="#444" stroke-width="0.8"/>
<line x1="175.75" y1="570.4" x2="180.75" y2="570.4" stroke="#333" stroke-width="0.9"/>
<rect x="170" y="585.4" width="16.5" height="37.4" fill="#fff" stroke="#111" stroke-width="0.9"/>
<line x1="194.8" y1="526.5" x2="194.8" y2="538.1" stroke="#444" stroke-width="0.8"/>
<line x1="192.3" y1="526.5" x2="197.3" y2="526.5" stroke="#333" stroke-width="0.9"/>
<rect x="186.5" y="538.1" width="16.6" height="84.7" fill="#000" stroke="#111" stroke-width="0.9"/>
<line x1="215.75" y1="565.4" x2="215.75" y2="575.8" stroke="#444" stroke-width="0.8"/>
<line x1="213.25" y1="565.4" x2="218.25" y2="565.4" stroke="#333" stroke-width="0.9"/>
<rect x="207.7" y="575.8" width="16.1" height="47" fill="#fff" stroke="#111" stroke-width="0.9"/>
<line x1="232.5" y1="512.3" x2="232.5" y2="528.8" stroke="#444" stroke-width="0.8"/>
<line x1="230" y1="512.3" x2="235" y2="512.3" stroke="#333" stroke-width="0.9"/>
<rect x="223.8" y="528.8" width="17.4" height="94" fill="#000" stroke="#111" stroke-width="0.9"/>
<text x="74.2" y="633.6" font-size="7.3" text-anchor="middle" fill="#111">0</text>
<text x="110.8" y="633.6" font-size="7.3" text-anchor="middle" fill="#111">0.1</text>
<text x="149.2" y="633.6" font-size="7.3" text-anchor="middle" fill="#111">1</text>
<text x="187.3" y="633.6" font-size="7.3" text-anchor="middle" fill="#111">10</text>
<text x="223.8" y="633.6" font-size="7.3" text-anchor="middle" fill="#111">100</text>
<text x="148.3" y="645.9" font-size="7.2" text-anchor="middle" font-weight="bold" fill="#111">GM-CSF (ng/ml)</text>
<rect x="59" y="509.8" width="9.7" height="5.7" fill="#fff" stroke="#111" stroke-width="0.9"/>
<text x="72.2" y="515.28" font-size="7.3" text-anchor="start" fill="#111">Normoxia</text>
<rect x="59" y="519" width="9.7" height="5.6" fill="#000" stroke="#111" stroke-width="0.9"/>
<text x="72.2" y="524.43" font-size="7.3" text-anchor="start" fill="#111">0.5% O<tspan font-size="4.82" dy="1.31">2</tspan><tspan dy="-1.31"></tspan></text>
<path d="M102.6,558.7 V554.4 H119.6 V558.7" fill="none" stroke="#111" stroke-width="0.6"/>
<text x="111.3" y="559" font-size="3.8" text-anchor="middle" fill="#111">0.007</text>
<text x="262.3" y="513" font-size="17.5" text-anchor="start" font-weight="bold" fill="#000">H</text>
<line x1="302.4" y1="510.2" x2="302.4" y2="623.1" stroke="#111" stroke-width="1.0"/>
<line x1="299.4" y1="623" x2="302.4" y2="623" stroke="#111" stroke-width="1.0"/>
<text x="296.1" y="625.56" font-size="7.1" text-anchor="end" fill="#111">0</text>
<line x1="299.4" y1="594.8" x2="302.4" y2="594.8" stroke="#111" stroke-width="1.0"/>
<text x="296.1" y="597.36" font-size="7.1" text-anchor="end" fill="#111">250</text>
<line x1="299.4" y1="566.6" x2="302.4" y2="566.6" stroke="#111" stroke-width="1.0"/>
<text x="296.1" y="569.16" font-size="7.1" text-anchor="end" fill="#111">500</text>
<line x1="299.4" y1="538.4" x2="302.4" y2="538.4" stroke="#111" stroke-width="1.0"/>
<text x="296.1" y="540.96" font-size="7.1" text-anchor="end" fill="#111">750</text>
<line x1="299.4" y1="510.2" x2="302.4" y2="510.2" stroke="#111" stroke-width="1.0"/>
<text x="296.1" y="512.76" font-size="7.1" text-anchor="end" fill="#111">1000</text>
<line x1="302.4" y1="623.1" x2="491.5" y2="623.1" stroke="#111" stroke-width="1.0"/>
<text x="275.2" y="566.2" font-size="7.35" font-weight="bold" text-anchor="middle" fill="#111" transform="rotate(-90 275.2 566.2)" dy="2.65">VEGF (pg/ml)</text>
<line x1="313.85" y1="571.2" x2="313.85" y2="583.5" stroke="#444" stroke-width="0.8"/>
<line x1="311.35" y1="571.2" x2="316.35" y2="571.2" stroke="#333" stroke-width="0.9"/>
<rect x="305.8" y="583.5" width="16.1" height="39.3" fill="#fff" stroke="#111" stroke-width="0.9"/>
<line x1="330.55" y1="538.1" x2="330.55" y2="555.4" stroke="#444" stroke-width="0.8"/>
<line x1="328.05" y1="538.1" x2="333.05" y2="538.1" stroke="#333" stroke-width="0.9"/>
<rect x="321.9" y="555.4" width="17.3" height="67.4" fill="#000" stroke="#111" stroke-width="0.9"/>
<line x1="350.95" y1="586.2" x2="350.95" y2="593.5" stroke="#444" stroke-width="0.8"/>
<line x1="348.45" y1="586.2" x2="353.45" y2="586.2" stroke="#333" stroke-width="0.9"/>
<rect x="343.1" y="593.5" width="15.7" height="29.3" fill="#fff" stroke="#111" stroke-width="0.9"/>
<line x1="367.5" y1="545" x2="367.5" y2="562.3" stroke="#444" stroke-width="0.8"/>
<line x1="365" y1="545" x2="370" y2="545" stroke="#333" stroke-width="0.9"/>
<rect x="358.8" y="562.3" width="17.4" height="60.5" fill="#000" stroke="#111" stroke-width="0.9"/>
<line x1="387.9" y1="577.7" x2="387.9" y2="593.1" stroke="#444" stroke-width="0.8"/>
<line x1="385.4" y1="577.7" x2="390.4" y2="577.7" stroke="#333" stroke-width="0.9"/>
<rect x="379.6" y="593.1" width="16.6" height="29.7" fill="#fff" stroke="#111" stroke-width="0.9"/>
<line x1="404.85" y1="570.4" x2="404.85" y2="586.5" stroke="#444" stroke-width="0.8"/>
<line x1="402.35" y1="570.4" x2="407.35" y2="570.4" stroke="#333" stroke-width="0.9"/>
<rect x="396.2" y="586.5" width="17.3" height="36.3" fill="#000" stroke="#111" stroke-width="0.9"/>
<line x1="442.9" y1="604.6" x2="442.9" y2="611.2" stroke="#444" stroke-width="0.8"/>
<line x1="440.4" y1="604.6" x2="445.4" y2="604.6" stroke="#333" stroke-width="0.9"/>
<rect x="434.6" y="611.2" width="16.6" height="11.6" fill="#000" stroke="#111" stroke-width="0.9"/>
<line x1="480.75" y1="607.7" x2="480.75" y2="614.2" stroke="#444" stroke-width="0.8"/>
<line x1="478.25" y1="607.7" x2="483.25" y2="607.7" stroke="#333" stroke-width="0.9"/>
<rect x="472.3" y="614.2" width="16.9" height="8.6" fill="#000" stroke="#111" stroke-width="0.9"/>
<text x="321.9" y="633.6" font-size="7.3" text-anchor="middle" fill="#111">0</text>
<text x="359.6" y="633.6" font-size="7.3" text-anchor="middle" fill="#111">0.1</text>
<text x="396.9" y="633.6" font-size="7.3" text-anchor="middle" fill="#111">1</text>
<text x="434.6" y="633.6" font-size="7.3" text-anchor="middle" fill="#111">10</text>
<text x="471.9" y="633.6" font-size="7.3" text-anchor="middle" fill="#111">100</text>
<text x="395.9" y="645.9" font-size="7.2" text-anchor="middle" font-weight="bold" fill="#111">GM-CSF (ng/ml)</text>
<rect x="306.6" y="509.8" width="10" height="5.7" fill="#fff" stroke="#111" stroke-width="0.9"/>
<text x="320.1" y="515.28" font-size="7.3" text-anchor="start" fill="#111">Normoxia</text>
<rect x="306.6" y="519" width="10" height="5.6" fill="#000" stroke="#111" stroke-width="0.9"/>
<text x="320.1" y="524.43" font-size="7.3" text-anchor="start" fill="#111">0.5% O<tspan font-size="4.82" dy="1.31">2</tspan><tspan dy="-1.31"></tspan></text>
<text x="10.5" y="679.6" font-size="17.5" text-anchor="start" font-weight="bold" fill="#000">I</text>
<defs>
<radialGradient id="c1" cx="0.56" cy="0.7" r="0.78"><stop offset="0" stop-color="#eaeaea"/><stop offset="0.18" stop-color="#c4c4c4"/><stop offset="0.45" stop-color="#a0a0a0"/><stop offset="0.8" stop-color="#919191"/><stop offset="1" stop-color="#787878"/></radialGradient>
<radialGradient id="c2" cx="0.6" cy="0.5" r="0.62"><stop offset="0" stop-color="#9e9e9e"/><stop offset="0.7" stop-color="#8c8c8c"/><stop offset="1" stop-color="#6e6e6e"/></radialGradient>
<radialGradient id="c3" cx="0.5" cy="0.5" r="0.55"><stop offset="0" stop-color="#8c8c8c"/><stop offset="0.8" stop-color="#868686"/><stop offset="1" stop-color="#969696"/></radialGradient>
<radialGradient id="c4" cx="0.68" cy="0.3" r="0.8"><stop offset="0" stop-color="#cccccc"/><stop offset="0.5" stop-color="#aaaaaa"/><stop offset="1" stop-color="#808080"/></radialGradient>
<filter id="grain" x="0" y="0" width="100%" height="100%"><feTurbulence type="fractalNoise" baseFrequency="0.22" numOctaves="3" seed="7"/><feColorMatrix type="saturate" values="0"/><feComponentTransfer><feFuncR type="linear" slope="1.8" intercept="-0.5"/><feFuncG type="linear" slope="1.8" intercept="-0.5"/><feFuncB type="linear" slope="1.8" intercept="-0.5"/><feFuncA type="linear" slope="0" intercept="0.3"/></feComponentTransfer><feComposite operator="in" in2="SourceGraphic"/></filter>
<filter id="soft" x="-5%" y="-5%" width="110%" height="110%"><feGaussianBlur stdDeviation="0.6"/></filter>
<radialGradient id="glow"><stop offset="0" stop-color="#fff" stop-opacity="0.55"/><stop offset="0.5" stop-color="#fff" stop-opacity="0.3"/><stop offset="1" stop-color="#fff" stop-opacity="0"/></radialGradient>
</defs>
<circle cx="62.7" cy="700.4" r="32.2" fill="url(#c1)"/>
<circle cx="137" cy="700.6" r="32.3" fill="url(#c2)"/>
<circle cx="62.7" cy="782.6" r="32.3" fill="url(#c3)"/>
<circle cx="137" cy="782.6" r="32.1" fill="url(#c4)"/>
<g filter="url(#grain)"><circle cx="62.7" cy="700.4" r="32.2" fill="#000"/><circle cx="137" cy="700.6" r="32.3" fill="#000"/><circle cx="62.7" cy="782.6" r="32.3" fill="#000"/><circle cx="137" cy="782.6" r="32.1" fill="#000"/></g>
<g filter="url(#soft)">
<g fill="#1a1a1a"><ellipse cx="49.5" cy="672.8" rx="1.5" ry="1.2"/><ellipse cx="34.9" cy="688" rx="1.6" ry="2.3" transform="rotate(-30 34.9 688)"/><circle cx="75.1" cy="676.8" r="1.2"/><circle cx="70.4" cy="690.3" r="1.3"/><circle cx="58.3" cy="703.4" r="0.9"/></g>
<path d="M61.5,676 L58.5,686" stroke="#333" stroke-width="1" fill="none"/>
<ellipse cx="68" cy="714" rx="16" ry="13" fill="url(#glow)"/>
<ellipse cx="67.5" cy="714" rx="3" ry="1.6" fill="#777" opacity="0.6"/>
<path d="M129.4,669 L145.9,669.5 L145.2,693.4 L143.3,701 L137,703.5 L131,701 L127,686 Z" fill="#b4b4b4" opacity="0.55"/>
<path d="M124.3,715 L129.4,706 L137,704.2 L144.6,706 L148.4,721.3 L140,726 L128,724 Z" fill="#acacac" opacity="0.55"/>
<g fill="none" stroke="#2e2e2e" stroke-width="0.9"><path d="M130,670.5 L126.8,682 L121.8,693.4"/><path d="M145.9,673 L145.2,693.4 L143.3,701 L137,703.5 L131,702"/><path d="M121.8,718.8 L124.3,715 C125.5,709 130,704.5 136.5,704 C142,704 146,707 147,712 L148.4,721.3 L150,727"/><path d="M145.2,693.4 L151,689 L155.4,685.1"/><path d="M110.5,699 L114.5,697.5"/><path d="M106.5,706 L110,705"/></g>
<path d="M153.8,682.5 L157,684.5 L156.5,688 L153.5,686.5 Z" fill="#1e1e1e"/>
<g fill="none" stroke="#444" stroke-width="0.9"><path d="M31.4,782.3 L40,781.5 L49.5,780.3"/><path d="M50.2,768.2 L50.2,781.6" stroke-dasharray="1.5,1"/><path d="M36,793.8 L41.5,791 L52,790 L64.3,789.7 L72,790.5 L81.8,791.7 L91.3,791"/><path d="M68.4,762.8 L80.5,761.5 L86,766 L91.3,775"/></g>
<g fill="none" stroke="#b8b8b8" stroke-width="1.6"><path d="M48.2,785.7 L54.9,787.7 L63,787 L67,783 L69,779 L72.4,778.7"/></g>
<g fill="none" stroke="#333" stroke-width="0.6"><path d="M48.2,787 L55,789 L63.5,788.5 L68,784.5 L70,780.5 L72.4,780"/></g>
<ellipse cx="150" cy="768" rx="22" ry="18" fill="url(#glow)" opacity="0.6"/>
<g fill="#3a3a3a"><circle cx="137.7" cy="769.5" r="1.2"/><ellipse cx="149.3" cy="774" rx="1" ry="2"/><circle cx="162.6" cy="769.5" r="1.1"/><circle cx="149.8" cy="781" r="1.0"/><circle cx="130.3" cy="784.3" r="1.1"/><circle cx="114.8" cy="768.9" r="0.9"/><circle cx="119.5" cy="760.1" r="0.9"/><circle cx="161.2" cy="781" r="0.9"/><circle cx="153.1" cy="803.2" r="1.0"/><circle cx="146.4" cy="807.2" r="1.0"/><circle cx="128" cy="786.5" r="0.8"/></g>
</g>
<text x="62.8" y="741.4" font-size="7.3" text-anchor="middle" fill="#111">Minimal media</text>
<text x="136.9" y="741.4" font-size="7.3" text-anchor="middle" fill="#111">Rich media</text>
<text x="63" y="824.2" font-size="7.3" text-anchor="middle" fill="#111">Utx monocyte</text>
<text x="63" y="832.7" font-size="7.3" text-anchor="middle" fill="#111">supernatants</text>
<text x="63" y="841.2" font-size="7.3" text-anchor="middle" fill="#111">at 0.5%O<tspan font-size="4.82" dy="1.31">2</tspan><tspan dy="-1.31"></tspan></text>
<text x="136.3" y="824.2" font-size="7.3" text-anchor="middle" fill="#111">GM-CSF-treated</text>
<text x="136.3" y="832.7" font-size="7.3" text-anchor="middle" fill="#111">monocyte</text>
<text x="136.3" y="841.2" font-size="7.3" text-anchor="middle" fill="#111">supernatants</text>
<text x="136.3" y="849.7" font-size="7.3" text-anchor="middle" fill="#111">at 0.5%O<tspan font-size="4.82" dy="1.31">2</tspan><tspan dy="-1.31"></tspan></text>
<line x1="213.3" y1="680.1" x2="213.3" y2="793.5" stroke="#111" stroke-width="1.0"/>
<line x1="210.3" y1="793.5" x2="213.3" y2="793.5" stroke="#111" stroke-width="1.0"/>
<text x="208.2" y="796.06" font-size="7.1" text-anchor="end" fill="#111">0</text>
<line x1="210.3" y1="755.7" x2="213.3" y2="755.7" stroke="#111" stroke-width="1.0"/>
<text x="208.2" y="758.26" font-size="7.1" text-anchor="end" fill="#111">30</text>
<line x1="210.3" y1="717.9" x2="213.3" y2="717.9" stroke="#111" stroke-width="1.0"/>
<text x="208.2" y="720.46" font-size="7.1" text-anchor="end" fill="#111">60</text>
<line x1="210.3" y1="680.1" x2="213.3" y2="680.1" stroke="#111" stroke-width="1.0"/>
<text x="208.2" y="682.66" font-size="7.1" text-anchor="end" fill="#111">90</text>
<line x1="213.3" y1="793.4" x2="409.2" y2="793.4" stroke="#111" stroke-width="1.0"/>
<text x="191.5" y="737" font-size="7.35" font-weight="bold" text-anchor="middle" fill="#111" transform="rotate(-90 191.5 737)" dy="2.65">Total number of tubes per well</text>
<line x1="234.25" y1="773.8" x2="234.25" y2="781.9" stroke="#444" stroke-width="0.8"/>
<line x1="231.95" y1="773.8" x2="236.55" y2="773.8" stroke="#333" stroke-width="0.9"/>
<rect x="220.4" y="781.9" width="27.7" height="11.5" fill="#000" stroke="#111" stroke-width="0.9"/>
<line x1="279.45" y1="683.8" x2="279.45" y2="692.3" stroke="#444" stroke-width="0.8"/>
<line x1="277.15" y1="683.8" x2="281.75" y2="683.8" stroke="#333" stroke-width="0.9"/>
<rect x="265.4" y="692.3" width="28.1" height="101.1" fill="#000" stroke="#111" stroke-width="0.9"/>
<line x1="326.05" y1="704" x2="326.05" y2="717.8" stroke="#444" stroke-width="0.8"/>
<line x1="323.75" y1="704" x2="328.35" y2="704" stroke="#333" stroke-width="0.9"/>
<rect x="311.9" y="717.8" width="28.3" height="75.6" fill="#000" stroke="#111" stroke-width="0.9"/>
<line x1="382.6" y1="764.6" x2="382.6" y2="771.9" stroke="#444" stroke-width="0.8"/>
<line x1="380.3" y1="764.6" x2="384.9" y2="764.6" stroke="#333" stroke-width="0.9"/>
<rect x="368.3" y="771.9" width="28.6" height="21.5" fill="#000" stroke="#111" stroke-width="0.9"/>
<path d="M325.5,696.4 V692.4 H383 V696.4" fill="none" stroke="#111" stroke-width="0.7"/>
<text x="354.25" y="690.4" font-size="4.7" text-anchor="middle" fill="#111">p=0.002</text>
<text x="233.8" y="805.2" font-size="7.3" text-anchor="middle" fill="#111">Minimal</text>
<text x="233.8" y="814" font-size="7.3" text-anchor="middle" fill="#111">media</text>
<text x="279.3" y="805.2" font-size="7.3" text-anchor="middle" fill="#111">Rich</text>
<text x="279.3" y="814" font-size="7.3" text-anchor="middle" fill="#111">media</text>
<text x="326.2" y="805.2" font-size="7.3" text-anchor="middle" fill="#111">Utx</text>
<text x="326.2" y="814" font-size="7.3" text-anchor="middle" fill="#111">monocyte</text>
<text x="326.2" y="822.8" font-size="7.3" text-anchor="middle" fill="#111">supernatants</text>
<text x="381.7" y="805.2" font-size="7.3" text-anchor="middle" fill="#111">GM-CSF-treated</text>
<text x="381.7" y="814" font-size="7.3" text-anchor="middle" fill="#111">monocyte</text>
<text x="381.7" y="822.8" font-size="7.3" text-anchor="middle" fill="#111">supernatants</text>
<path d="M297.3,823.5 V827.7 H413.8 V823.5" fill="none" stroke="#111" stroke-width="0.8"/>
<text x="355" y="836.5" font-size="7.3" text-anchor="middle" fill="#111">0.5%O<tspan font-size="4.82" dy="1.31">2</tspan><tspan dy="-1.31"></tspan></text>
<text x="4.8" y="893.2" font-size="17.5" text-anchor="start" font-weight="bold" fill="#000">J</text>
<line x1="56.4" y1="892.4" x2="56.4" y2="1005.2" stroke="#111" stroke-width="1.0"/>
<line x1="53.4" y1="1005.2" x2="56.4" y2="1005.2" stroke="#111" stroke-width="1.0"/>
<text x="50.5" y="1007.76" font-size="7.1" text-anchor="end" fill="#111">0</text>
<line x1="53.4" y1="986.4" x2="56.4" y2="986.4" stroke="#111" stroke-width="1.0"/>
<text x="50.5" y="988.96" font-size="7.1" text-anchor="end" fill="#111">500</text>
<line x1="53.4" y1="967.6" x2="56.4" y2="967.6" stroke="#111" stroke-width="1.0"/>
<text x="50.5" y="970.16" font-size="7.1" text-anchor="end" fill="#111">1000</text>
<line x1="53.4" y1="948.8" x2="56.4" y2="948.8" stroke="#111" stroke-width="1.0"/>
<text x="50.5" y="951.36" font-size="7.1" text-anchor="end" fill="#111">1500</text>
<line x1="53.4" y1="930" x2="56.4" y2="930" stroke="#111" stroke-width="1.0"/>
<text x="50.5" y="932.56" font-size="7.1" text-anchor="end" fill="#111">2000</text>
<line x1="53.4" y1="911.2" x2="56.4" y2="911.2" stroke="#111" stroke-width="1.0"/>
<text x="50.5" y="913.76" font-size="7.1" text-anchor="end" fill="#111">2500</text>
<line x1="53.4" y1="892.4" x2="56.4" y2="892.4" stroke="#111" stroke-width="1.0"/>
<text x="50.5" y="894.96" font-size="7.1" text-anchor="end" fill="#111">3000</text>
<line x1="56.4" y1="1005.3" x2="245.8" y2="1005.3" stroke="#111" stroke-width="1.0"/>
<text x="26.2" y="948.8" font-size="7.35" font-weight="bold" text-anchor="middle" fill="#111" transform="rotate(-90 26.2 948.8)" dy="2.65">sVEGFR-1 (pg/ml)</text>
<line x1="86.65" y1="996.2" x2="86.65" y2="1001" stroke="#444" stroke-width="0.8"/>
<line x1="84.65" y1="996.2" x2="88.65" y2="996.2" stroke="#333" stroke-width="0.9"/>
<rect x="78" y="1001" width="17.3" height="4.3" fill="#fff" stroke="#111" stroke-width="0.9"/>
<line x1="128.95" y1="983.1" x2="128.95" y2="986.3" stroke="#444" stroke-width="0.8"/>
<line x1="126.95" y1="983.1" x2="130.95" y2="983.1" stroke="#333" stroke-width="0.9"/>
<rect x="120.6" y="986.3" width="16.7" height="19" fill="#fff" stroke="#111" stroke-width="0.9"/>
<line x1="171.9" y1="960.8" x2="171.9" y2="971.7" stroke="#444" stroke-width="0.8"/>
<line x1="169.9" y1="960.8" x2="173.9" y2="960.8" stroke="#333" stroke-width="0.9"/>
<rect x="163.3" y="971.7" width="17.2" height="33.6" fill="#fff" stroke="#111" stroke-width="0.9"/>
<line x1="213.9" y1="903.8" x2="213.9" y2="927.3" stroke="#444" stroke-width="0.8"/>
<line x1="211.9" y1="903.8" x2="215.9" y2="903.8" stroke="#333" stroke-width="0.9"/>
<rect x="205.2" y="927.3" width="17.4" height="78" fill="#fff" stroke="#111" stroke-width="0.9"/>
<polygon points="211.2,894.3 211.91,896.03 213.77,896.17 212.34,897.37 212.79,899.18 211.2,898.2 209.61,899.18 210.06,897.37 208.63,896.17 210.49,896.03" fill="#000"/>
<polygon points="216.8,894.3 217.51,896.03 219.37,896.17 217.94,897.37 218.39,899.18 216.8,898.2 215.21,899.18 215.66,897.37 214.23,896.17 216.09,896.03" fill="#000"/>
<text x="86.5" y="1015.5" font-size="7.3" text-anchor="middle" fill="#111">Normoxia/</text>
<text x="86.5" y="1024" font-size="7.3" text-anchor="middle" fill="#111">Utx</text>
<text x="128.8" y="1015.5" font-size="7.3" text-anchor="middle" fill="#111">Normoxia/</text>
<text x="128.8" y="1024" font-size="7.3" text-anchor="middle" fill="#111">GM-CSF</text>
<text x="172.3" y="1015.5" font-size="7.3" text-anchor="middle" fill="#111">0.5%O<tspan font-size="4.82" dy="1.31">2</tspan><tspan dy="-1.31">/</tspan></text>
<text x="172.3" y="1024" font-size="7.3" text-anchor="middle" fill="#111">Utx</text>
<text x="213.5" y="1015.5" font-size="7.3" text-anchor="middle" fill="#111">0.5%O<tspan font-size="4.82" dy="1.31">2</tspan><tspan dy="-1.31">/</tspan></text>
<text x="213.5" y="1024" font-size="7.3" text-anchor="middle" fill="#111">GM-CSF</text>
<text x="266.2" y="893.2" font-size="17.5" text-anchor="start" font-weight="bold" fill="#000">K</text>
<line x1="302.2" y1="892" x2="302.2" y2="1005.2" stroke="#111" stroke-width="1.0"/>
<line x1="299.2" y1="1005.2" x2="302.2" y2="1005.2" stroke="#111" stroke-width="1.0"/>
<text x="296.5" y="1007.76" font-size="7.1" text-anchor="end" fill="#111">0</text>
<line x1="299.2" y1="976.9" x2="302.2" y2="976.9" stroke="#111" stroke-width="1.0"/>
<text x="296.5" y="979.46" font-size="7.1" text-anchor="end" fill="#111">40</text>
<line x1="299.2" y1="948.6" x2="302.2" y2="948.6" stroke="#111" stroke-width="1.0"/>
<text x="296.5" y="951.16" font-size="7.1" text-anchor="end" fill="#111">80</text>
<line x1="299.2" y1="920.3" x2="302.2" y2="920.3" stroke="#111" stroke-width="1.0"/>
<text x="296.5" y="922.86" font-size="7.1" text-anchor="end" fill="#111">120</text>
<line x1="299.2" y1="892" x2="302.2" y2="892" stroke="#111" stroke-width="1.0"/>
<text x="296.5" y="894.56" font-size="7.1" text-anchor="end" fill="#111">160</text>
<line x1="302.2" y1="1005.3" x2="491.9" y2="1005.3" stroke="#111" stroke-width="1.0"/>
<text x="278.9" y="948.5" font-size="7.35" font-weight="bold" text-anchor="middle" fill="#111" transform="rotate(-90 278.9 948.5)" dy="2.65">VEGF (pg/ml)</text>
<line x1="417.15" y1="901.7" x2="417.15" y2="938.4" stroke="#444" stroke-width="0.8"/>
<line x1="415.15" y1="901.7" x2="419.15" y2="901.7" stroke="#333" stroke-width="0.9"/>
<rect x="408.7" y="938.4" width="16.9" height="66.9" fill="#fff" stroke="#111" stroke-width="0.9"/>
<text x="332.7" y="1015.5" font-size="7.3" text-anchor="middle" fill="#111">Normoxia/</text>
<text x="332.7" y="1024" font-size="7.3" text-anchor="middle" fill="#111">Utx</text>
<text x="375" y="1015.5" font-size="7.3" text-anchor="middle" fill="#111">Normoxia/</text>
<text x="375" y="1024" font-size="7.3" text-anchor="middle" fill="#111">GM-CSF</text>
<text x="417.3" y="1015.5" font-size="7.3" text-anchor="middle" fill="#111">0.5%O<tspan font-size="4.82" dy="1.31">2</tspan><tspan dy="-1.31">/</tspan></text>
<text x="417.3" y="1024" font-size="7.3" text-anchor="middle" fill="#111">Utx</text>
<text x="459.6" y="1015.5" font-size="7.3" text-anchor="middle" fill="#111">0.5%O<tspan font-size="4.82" dy="1.31">2</tspan><tspan dy="-1.31">/</tspan></text>
<text x="459.6" y="1024" font-size="7.3" text-anchor="middle" fill="#111">GM-CSF</text>
</svg></body></html>
